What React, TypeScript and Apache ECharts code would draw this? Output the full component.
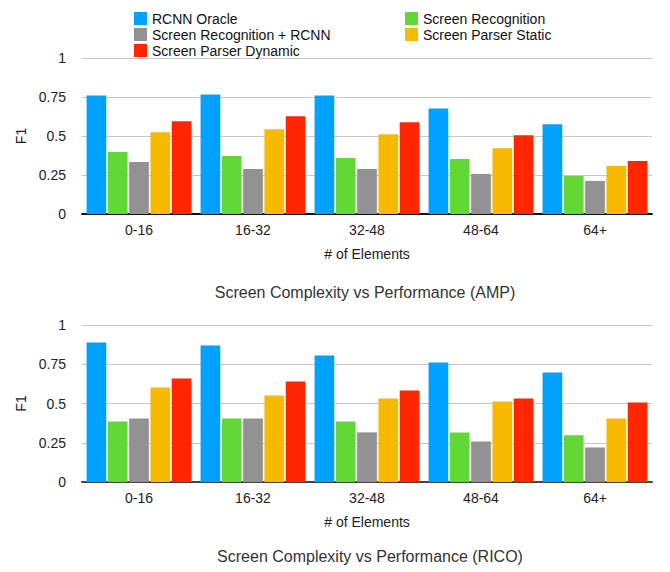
import React, { useEffect, useRef } from "react";
import * as echarts from "echarts";

const categories = ["0-16", "16-32", "32-48", "48-64", "64+"];
const seriesNames = [
  "RCNN Oracle",
  "Screen Recognition",
  "Screen Recognition + RCNN",
  "Screen Parser Static",
  "Screen Parser Dynamic",
];
const colors = ["#00A2FF", "#61D836", "#929292", "#F8BA00", "#FF2600"];

// AMP (top chart)
const ampRcnnOracle = [0.76, 0.766, 0.76, 0.677, 0.575];
const ampScreenRecognition = [0.397, 0.372, 0.359, 0.352, 0.244];
const ampScreenRecognitionRcnn = [0.333, 0.289, 0.289, 0.257, 0.212];
const ampParserStatic = [0.524, 0.544, 0.512, 0.422, 0.308];
const ampParserDynamic = [0.594, 0.626, 0.588, 0.505, 0.34];

// RICO (bottom chart)
const ricoRcnnOracle = [0.888, 0.869, 0.805, 0.761, 0.697];
const ricoScreenRecognition = [0.386, 0.405, 0.386, 0.316, 0.297];
const ricoScreenRecognitionRcnn = [0.405, 0.405, 0.316, 0.258, 0.22];
const ricoParserStatic = [0.602, 0.551, 0.532, 0.513, 0.405];
const ricoParserDynamic = [0.659, 0.64, 0.583, 0.532, 0.506];

const yTicks = [0, 0.25, 0.5, 0.75, 1];
const xAxisName = "# of Elements";
const yAxisName = "F1";
const titles = [
  "Screen Complexity vs Performance (AMP)",
  "Screen Complexity vs Performance (RICO)",
];

const FONT = "'Liberation Sans', Arial, Helvetica, sans-serif";

export default function App() {
  const ref = useRef<HTMLDivElement>(null);
  useEffect(() => {
    if (!ref.current) return;
    const chart = echarts.init(ref.current, undefined, { renderer: "svg" });
    const ampData = [
      ampRcnnOracle,
      ampScreenRecognition,
      ampScreenRecognitionRcnn,
      ampParserStatic,
      ampParserDynamic,
    ];
    const ricoData = [
      ricoRcnnOracle,
      ricoScreenRecognition,
      ricoScreenRecognitionRcnn,
      ricoParserStatic,
      ricoParserDynamic,
    ];
    const axisLineColors = ["#111", "#444"];
    const grids = [
      { left: 82, right: 18, top: 58, height: 156 },
      { left: 82, right: 18, top: 325, height: 157 },
    ];
    const xAxes = grids.map((_, i) => ({
      type: "category",
      gridIndex: i,
      data: categories,
      axisTick: { show: false },
      axisLine: { lineStyle: { color: axisLineColors[i], width: 2 } },
      axisLabel: { color: "#222", fontSize: 14, fontFamily: FONT, margin: 9 },
      name: xAxisName,
      nameLocation: "middle",
      nameGap: 33,
      nameTextStyle: { color: "#222", fontSize: 14, fontFamily: FONT },
    }));
    const yAxes = grids.map((_, i) => ({
      type: "value",
      gridIndex: i,
      min: yTicks[0],
      max: yTicks[yTicks.length - 1],
      interval: yTicks[1] - yTicks[0],
      axisLine: { show: false },
      axisTick: { show: false },
      axisLabel: { color: "#222", fontSize: 14, fontFamily: FONT, margin: 16 },
      splitLine: { lineStyle: { color: "#c8c8c8", width: 1 } },
      name: yAxisName,
      nameLocation: "middle",
      nameRotate: 90,
      nameGap: 54,
      nameTextStyle: { color: "#222", fontSize: 14, fontFamily: FONT },
    }));
    const series: any[] = [];
    [ampData, ricoData].forEach((dataset, gi) => {
      dataset.forEach((vals, si) => {
        series.push({
          type: "bar",
          name: seriesNames[si],
          xAxisIndex: gi,
          yAxisIndex: gi,
          data: vals,
          barCategoryGap: "8%",
          barGap: "8%",
          itemStyle: { color: colors[si] },
        });
      });
    });
    const legendText = {
      color: "#111",
      fontSize: 14,
      fontFamily: FONT,
      lineHeight: 16,
    };
    const legendBase = {
      orient: "vertical",
      top: 5.5,
      itemWidth: 13,
      itemHeight: 13,
      itemGap: 0,
      icon: "rect",
      textStyle: legendText,
      selectedMode: false,
    };
    chart.setOption({
      animation: false,
      backgroundColor: "#fff",
      grid: grids,
      xAxis: xAxes,
      yAxis: yAxes,
      series,
      legend: [
        { ...legendBase, left: 129, data: [seriesNames[0], seriesNames[2], seriesNames[4]] },
        { ...legendBase, left: 400, data: [seriesNames[1], seriesNames[3]] },
      ],
      graphic: [
        {
          type: "text",
          x: 365,
          y: 292,
          style: {
            text: titles[0],
            fill: "#333",
            font: `16px ${FONT}`,
            textAlign: "center",
            textVerticalAlign: "middle",
          },
        },
        {
          type: "text",
          x: 370,
          y: 556,
          style: {
            text: titles[1],
            fill: "#333",
            font: `16px ${FONT}`,
            textAlign: "center",
            textVerticalAlign: "middle",
          },
        },
      ],
    });
    return () => chart.dispose();
  }, []);
  return (
    <div
      ref={ref}
      style={{ position: "fixed", left: 0, top: 0, width: 670, height: 572 }}
    />
  );
}
